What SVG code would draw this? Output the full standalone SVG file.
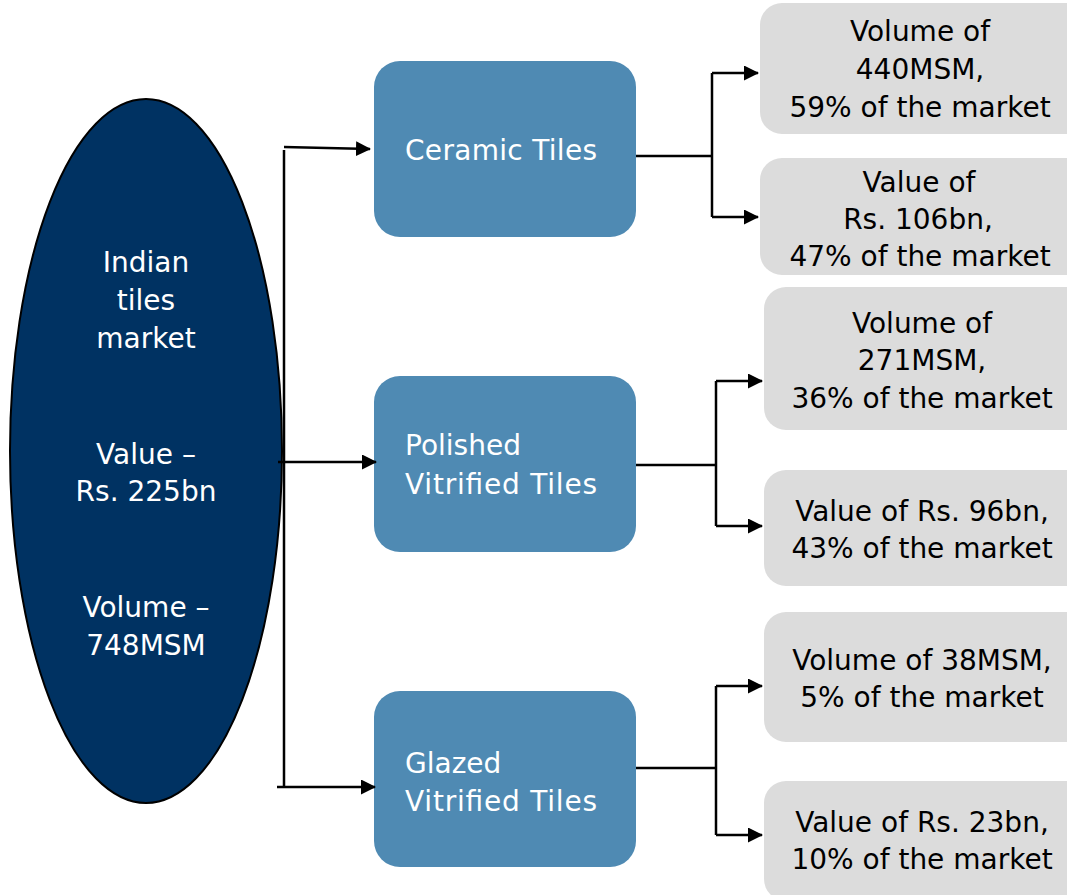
<svg xmlns="http://www.w3.org/2000/svg" width="1067" height="895" viewBox="0 0 1067 895">
<defs>
<marker id="ah" markerWidth="15" markerHeight="15" refX="14" refY="7.5" orient="auto" markerUnits="userSpaceOnUse" viewBox="0 0 15 15">
<path d="M0,0 L15,7.5 L0,15 z" fill="#000"/>
</marker>
<style>
.t{font-family:"DejaVu Sans",sans-serif;font-size:28px}
.w{fill:#fff}
.k{fill:#000}
.c{text-anchor:middle}
.blue{fill:#4f8ab3}
.gray{fill:#dcdcdc}
.ln{stroke:#000;stroke-width:2.5;fill:none}
.ar{stroke:#000;stroke-width:2.5;fill:none;marker-end:url(#ah)}
</style>
</defs>
<rect width="1067" height="895" fill="#fff"/>
<g id="market">
<ellipse cx="146" cy="451" rx="136" ry="352" fill="#003262" stroke="#000" stroke-width="2"/>
<text class="t w c" x="146" y="272">Indian</text>
<text class="t w c" x="146" y="310">tiles</text>
<text class="t w c" x="146" y="348">market</text>
<text class="t w c" x="146" y="464">Value –</text>
<text class="t w c" x="146" y="501">Rs. 225bn</text>
<text class="t w c" x="146" y="617">Volume –</text>
<text class="t w c" x="146" y="655">748MSM</text>
</g>
<g id="ceramic">
<rect class="blue" x="374" y="61" width="262" height="176" rx="26"/>
<text class="t w" x="405" y="160" textLength="192" lengthAdjust="spacing">Ceramic Tiles</text>
</g>
<g id="polished">
<rect class="blue" x="374" y="376" width="262" height="176" rx="26"/>
<text class="t w" x="405" y="455">Polished</text>
<text class="t w" x="405" y="494" textLength="192" lengthAdjust="spacing">Vitrified Tiles</text>
</g>
<g id="glazed">
<rect class="blue" x="374" y="691" width="262" height="176" rx="26"/>
<text class="t w" x="405" y="773">Glazed</text>
<text class="t w" x="405" y="811" textLength="192" lengthAdjust="spacing">Vitrified Tiles</text>
</g>
<g id="cer-vol">
<rect class="gray" x="760" y="3" width="330" height="131" rx="22"/>
<text class="t k c" x="920" y="41">Volume of</text>
<text class="t k c" x="920" y="79">440MSM,</text>
<text class="t k c" x="920" y="117">59% of the market</text>
</g>
<g id="cer-val">
<rect class="gray" x="760" y="158" width="330" height="117" rx="22"/>
<text class="t k c" x="919" y="192">Value of</text>
<text class="t k c" x="918" y="229">Rs. 106bn,</text>
<text class="t k c" x="920" y="266">47% of the market</text>
</g>
<g id="pol-vol">
<rect class="gray" x="764" y="287" width="330" height="143" rx="22"/>
<text class="t k c" x="922" y="333">Volume of</text>
<text class="t k c" x="922" y="370">271MSM,</text>
<text class="t k c" x="922" y="408">36% of the market</text>
</g>
<g id="pol-val">
<rect class="gray" x="764" y="470" width="330" height="116" rx="22"/>
<text class="t k c" x="922" y="521">Value of Rs. 96bn,</text>
<text class="t k c" x="922" y="558">43% of the market</text>
</g>
<g id="gla-vol">
<rect class="gray" x="764" y="612" width="330" height="130" rx="22"/>
<text class="t k c" x="922" y="670">Volume of 38MSM,</text>
<text class="t k c" x="922" y="707">5% of the market</text>
</g>
<g id="gla-val">
<rect class="gray" x="764" y="781" width="330" height="120" rx="22"/>
<text class="t k c" x="922" y="832">Value of Rs. 23bn,</text>
<text class="t k c" x="922" y="869">10% of the market</text>
</g>
<g id="connectors">
<path class="ln" d="M284,150 V787"/>
<path class="ar" d="M284,147 L370,149"/>
<path class="ar" d="M278,462 H376"/>
<path class="ar" d="M277,787 H375"/>
<path class="ln" d="M636,156 H712"/>
<path class="ln" d="M712,73 V217"/>
<path class="ar" d="M712,73 H758"/>
<path class="ar" d="M712,217 H758"/>
<path class="ln" d="M636,465 H716"/>
<path class="ln" d="M716,381 V526"/>
<path class="ar" d="M716,381 H762"/>
<path class="ar" d="M716,526 H762"/>
<path class="ln" d="M636,768 H716"/>
<path class="ln" d="M716,686 V835"/>
<path class="ar" d="M716,686 H762"/>
<path class="ar" d="M716,835 H762"/>
</g>
</svg>
